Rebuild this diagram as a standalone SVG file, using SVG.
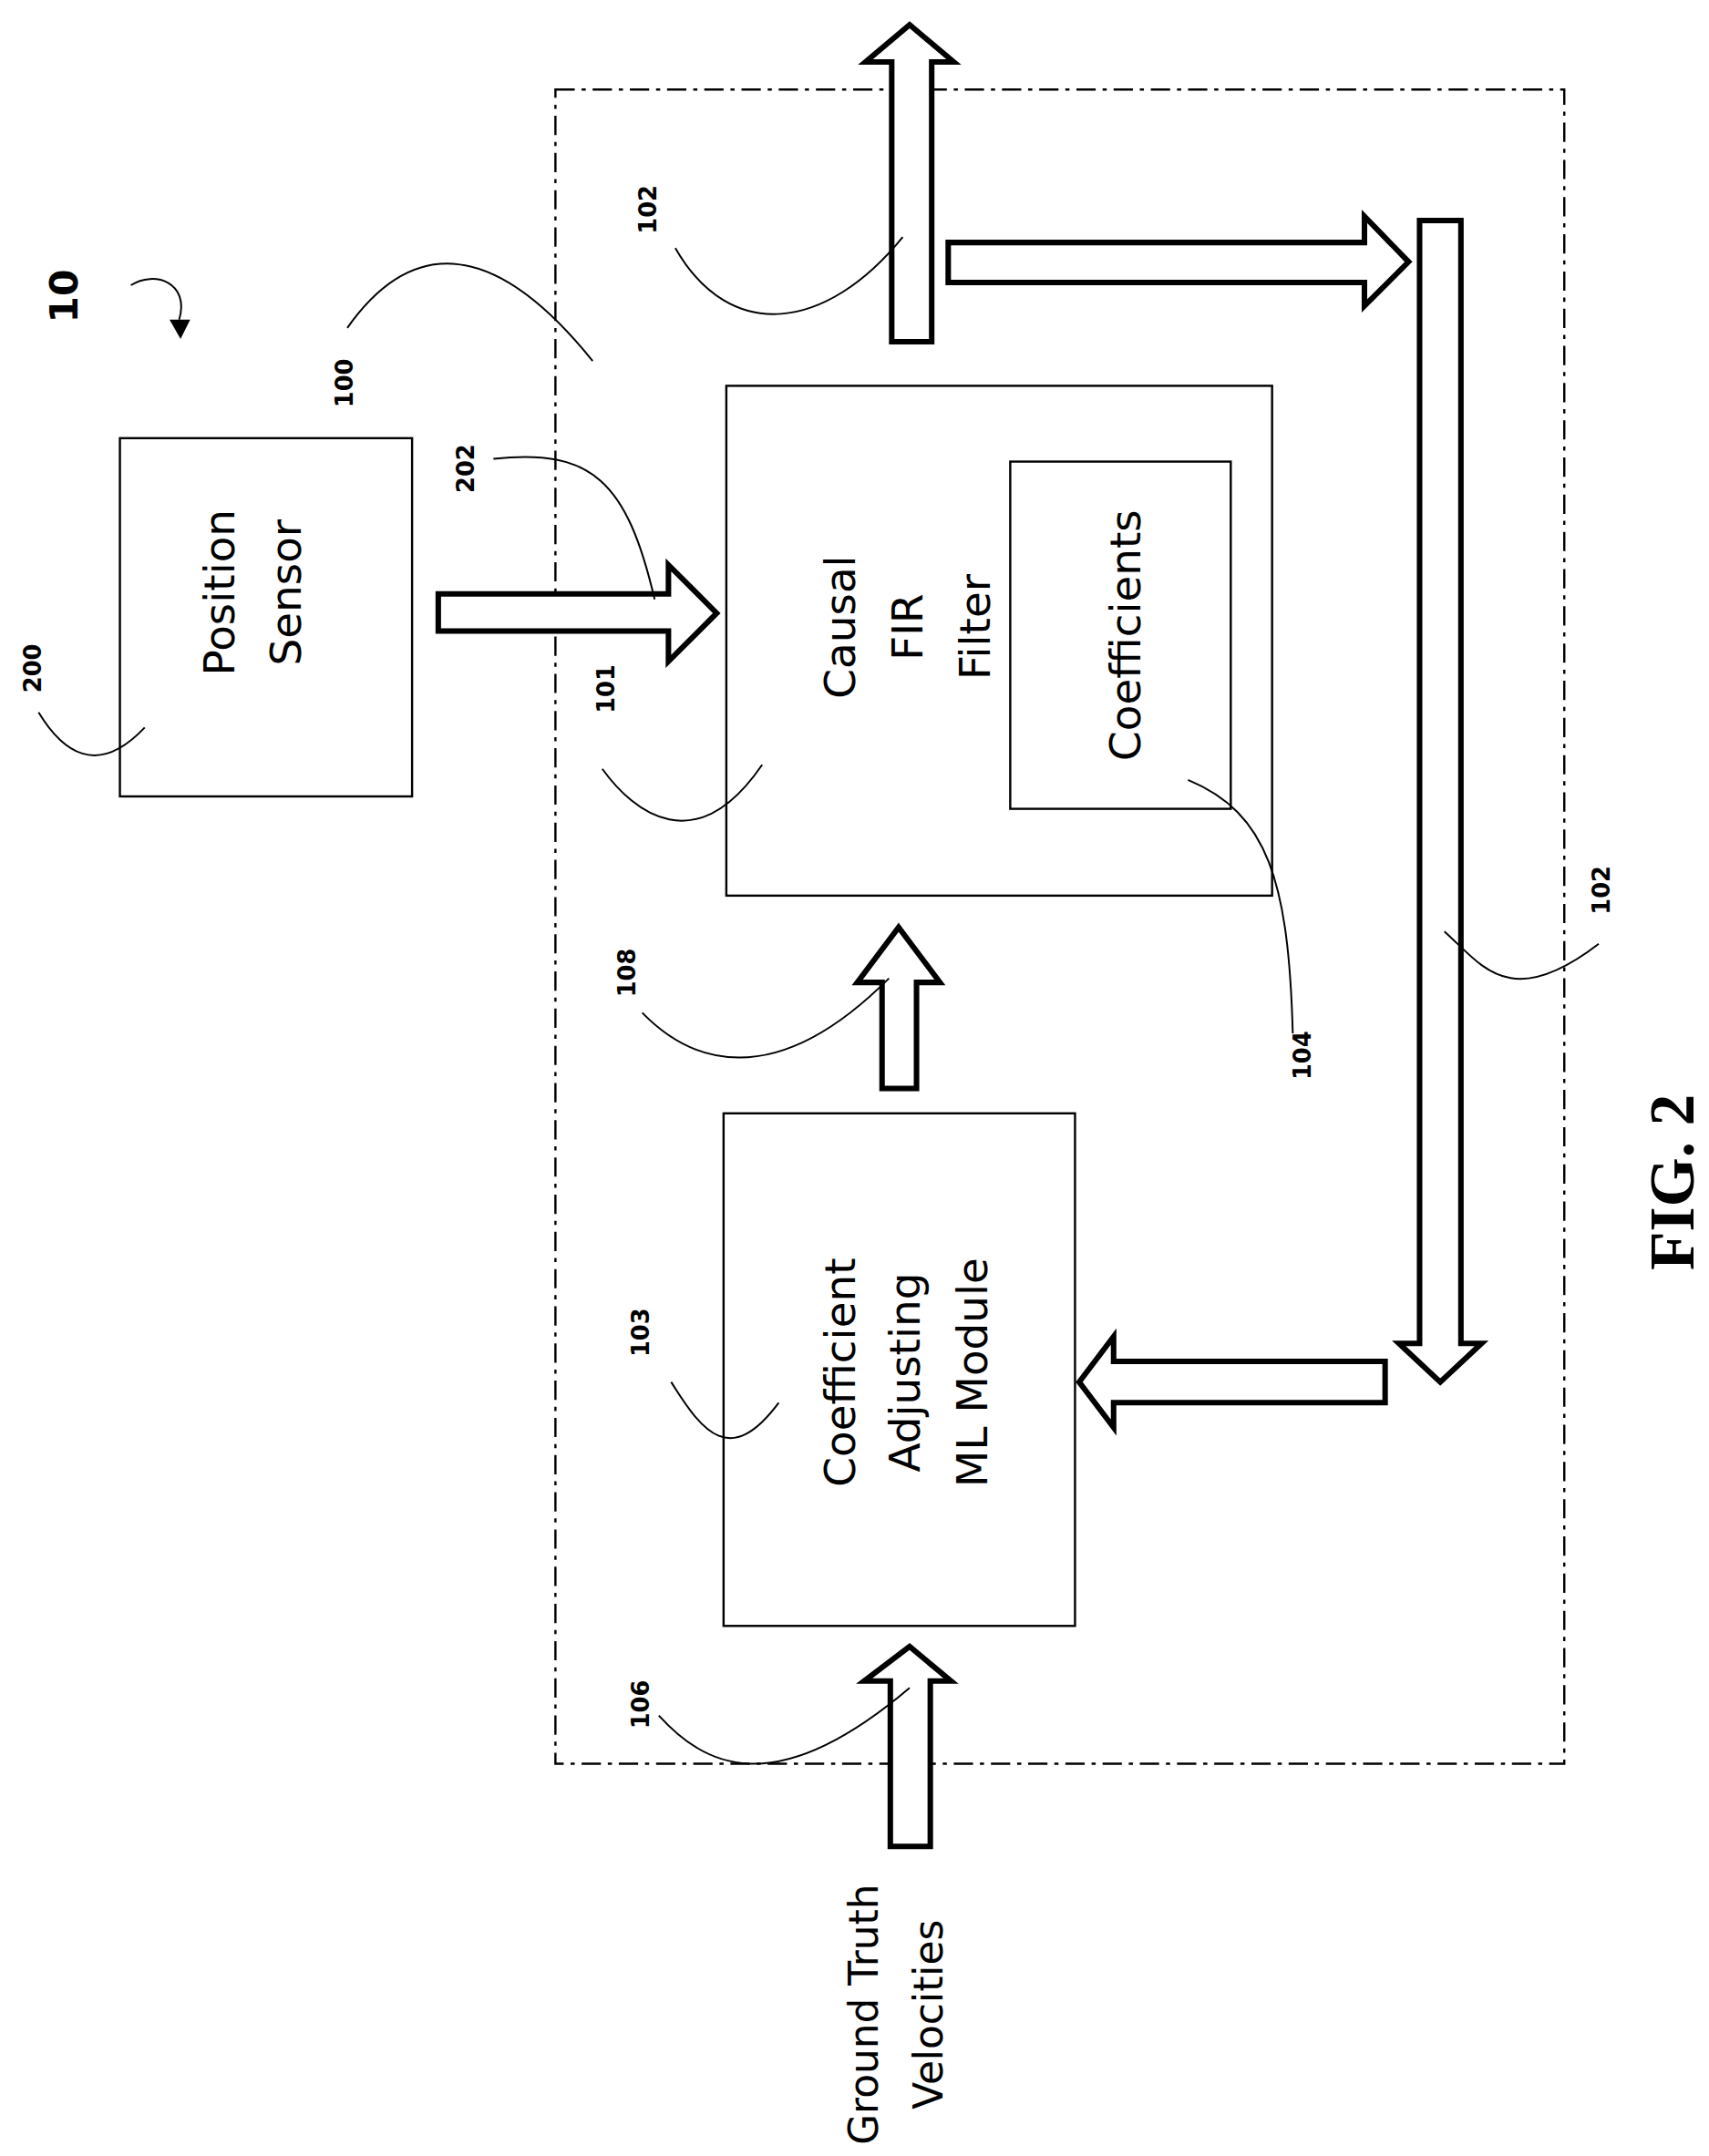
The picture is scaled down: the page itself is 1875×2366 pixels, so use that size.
<svg xmlns="http://www.w3.org/2000/svg" width="1875" height="2366" viewBox="0 0 1875 2366">
<style>
.box{fill:#fff;stroke:#000;stroke-width:1.6}
.arr{fill:#fff;stroke:#000;stroke-width:4;stroke-linejoin:miter}
.lead{fill:none;stroke:#000;stroke-width:1.3}
.t{font-family:"DejaVu Sans","Noto Sans",sans-serif;font-size:31px;fill:#000;text-anchor:middle}
.n{font-family:"DejaVu Sans","Liberation Sans",sans-serif;font-weight:bold;font-size:17px;fill:#000;text-anchor:middle}
</style>
<rect width="1875" height="2366" fill="#fff"/>
<g transform="scale(1.5121)">
<g id="system100"><rect x="403" y="65" width="732" height="1215" fill="none" stroke="#000" stroke-width="1.6" stroke-dasharray="14,5,3,5"/></g>
<g id="sensor200"><rect class="box" x="87" y="318" width="212" height="260"/>
<text class="t" transform="translate(170,430) rotate(-90)" dy="0">Position</text>
<text class="t" transform="translate(218,430) rotate(-90)" dy="0">Sensor</text></g>
<g id="filter101"><rect class="box" x="527" y="280" width="396" height="370"/>
<text class="t" transform="translate(620,455) rotate(-90)">Causal</text>
<text class="t" transform="translate(669,455) rotate(-90)">FIR</text>
<text class="t" transform="translate(718,455) rotate(-90)">Filter</text></g>
<g id="coeff104"><rect class="box" x="733" y="335" width="160" height="252"/>
<text class="t" transform="translate(827,461) rotate(-90)">Coefficients</text></g>
<g id="ml103"><rect class="box" x="525" y="808" width="255" height="372"/>
<text class="t" transform="translate(620,996) rotate(-90)">Coefficient</text>
<text class="t" transform="translate(667,996) rotate(-90)">Adjusting</text>
<text class="t" transform="translate(716,996) rotate(-90)">ML Module</text></g>
<g id="groundtruth"><text class="t" style="font-size:29px" transform="translate(637,1462) rotate(-90)">Ground Truth</text>
<text class="t" style="font-size:29px" transform="translate(684,1462) rotate(-90)">Velocities</text></g>
<g id="connectors">
<polygon class="arr" points="318,431 485,431 485,410 520,445 485,480 485,458 318,458"/>
<polygon class="arr" points="647,248 647,45 628,45 660,18 692,45 676,45 676,248"/>
<polygon class="arr" points="688,176 990,176 990,157 1022,190 990,222 990,205 688,205"/>
<polygon class="arr" points="1030,160 1060,160 1060,975 1075,975 1045,1003 1015,975 1030,975"/>
<polygon class="arr" points="1005,988 808,988 808,970 783,1003 808,1036 808,1018 1005,1018"/>
<polygon class="arr" points="640,790 640,713 622,713 652,673 682,713 665,713 665,790"/>
<polygon class="arr" points="646,1340 646,1220 627,1220 660,1195 690,1220 675,1220 675,1340"/>
<path class="lead" d="M95,207 C112,196 138,205 130,232"/>
<polygon points="123,232 138,232 131,246" fill="#000"/>
<path class="lead" d="M252,238 C300,170 360,175 430,262"/>
<path class="lead" d="M490,180 C530,250 600,240 655,172"/>
<path class="lead" d="M358,333 C430,325 455,350 475,435"/>
<path class="lead" d="M28,517 C45,545 70,565 105,528"/>
<path class="lead" d="M437,558 C460,590 505,625 553,555"/>
<path class="lead" d="M466,735 C500,770 560,795 645,710"/>
<path class="lead" d="M862,566 C920,590 935,640 938,750"/>
<path class="lead" d="M1048,676 C1075,700 1095,735 1160,685"/>
<path class="lead" d="M487,1003 C510,1040 530,1065 565,1018"/>
<path class="lead" d="M478,1245 C510,1280 560,1310 660,1225"/>
</g>
<g id="labels">
<text class="n" style="font-size:28px" transform="translate(46,215) rotate(-90)" dy="10">10</text>
<text class="n" transform="translate(250,278) rotate(-90)" dy="6">100</text>
<text class="n" transform="translate(338,340) rotate(-90)" dy="6">202</text>
<text class="n" transform="translate(24,485) rotate(-90)" dy="6">200</text>
<text class="n" transform="translate(440,500) rotate(-90)" dy="6">101</text>
<text class="n" transform="translate(470,152) rotate(-90)" dy="6">102</text>
<text class="n" transform="translate(455,706) rotate(-90)" dy="6">108</text>
<text class="n" transform="translate(945,766) rotate(-90)" dy="6">104</text>
<text class="n" transform="translate(1162,646) rotate(-90)" dy="6">102</text>
<text class="n" transform="translate(465,967) rotate(-90)" dy="6">103</text>
<text class="n" transform="translate(465,1237) rotate(-90)" dy="6">106</text>
<text transform="translate(1213,858) rotate(-90)" dy="16" text-anchor="middle" font-family="Liberation Serif,serif" font-weight="bold" font-size="46">FIG. 2</text>
</g>
</g>
</svg>
